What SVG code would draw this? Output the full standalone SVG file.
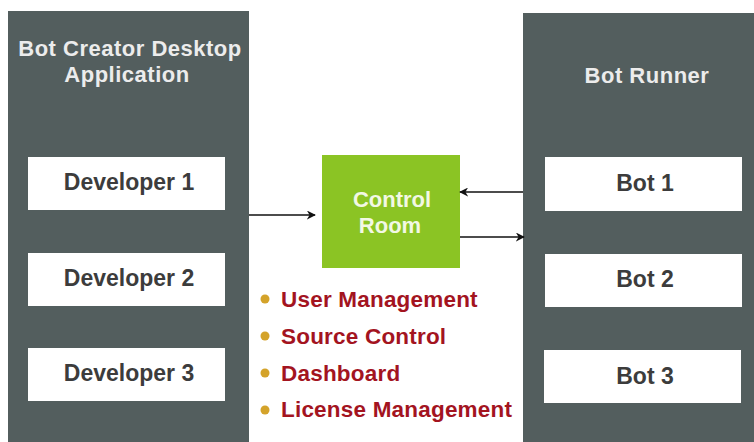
<svg xmlns="http://www.w3.org/2000/svg" width="754" height="442" viewBox="0 0 754 442">
<style>
.panel{fill:#535e5e}
.box{fill:#ffffff}
.boxt{font-family:"Liberation Sans",Arial,sans-serif;font-size:23px;font-weight:bold;fill:#3c3c3c;text-anchor:middle}
.head{font-family:"Liberation Sans",Arial,sans-serif;font-size:22px;font-weight:bold;fill:#ececec;text-anchor:middle;letter-spacing:0.5px}
.crt{font-family:"Liberation Sans",Arial,sans-serif;font-size:22px;font-weight:bold;fill:#f2f8e4;text-anchor:middle}
.item{font-family:"Liberation Sans",Arial,sans-serif;font-size:22.5px;font-weight:bold;fill:#a3141f;letter-spacing:0.2px}
.dot{fill:#d4a32a}
.conn{stroke:#111;stroke-width:1.6;fill:none;marker-end:url(#ah)}
</style>
<defs>
<marker id="ah" viewBox="0 0 10 10" refX="9" refY="5" markerWidth="9" markerHeight="9" markerUnits="userSpaceOnUse" orient="auto">
<path d="M0,0 L10,5 L0,10 L3,5 Z" fill="#111"/>
</marker>
</defs>
<rect width="754" height="442" fill="#ffffff"/>
<g id="bot-creator">
<rect class="panel" x="8" y="11" width="241" height="431"/>
<text class="head" x="130" y="56">Bot Creator Desktop</text>
<text class="head" x="127" y="82">Application</text>
</g>
<g id="developer1"><rect class="box" x="28" y="157" width="197" height="53"/><text class="boxt" x="129" y="190">Developer 1</text></g>
<g id="developer2"><rect class="box" x="28" y="253" width="197" height="53"/><text class="boxt" x="129" y="286">Developer 2</text></g>
<g id="developer3"><rect class="box" x="28" y="348" width="197" height="53"/><text class="boxt" x="129" y="381">Developer 3</text></g>
<g id="bot-runner">
<rect class="panel" x="523" y="13" width="231" height="429"/>
<text class="head" x="647" y="83">Bot Runner</text>
</g>
<g id="bot1"><rect class="box" x="545" y="157" width="197" height="54"/><text class="boxt" x="645" y="191">Bot 1</text></g>
<g id="bot2"><rect class="box" x="545" y="254" width="197" height="53"/><text class="boxt" x="645" y="287">Bot 2</text></g>
<g id="bot3"><rect class="box" x="544" y="350" width="197" height="53"/><text class="boxt" x="645" y="384">Bot 3</text></g>
<g id="control-room">
<rect x="322" y="155" width="138" height="113" fill="#8bc424"/>
<text class="crt" x="392" y="207">Control</text>
<text class="crt" x="390" y="233">Room</text>
</g>
<g id="features">
<circle class="dot" cx="265" cy="299" r="4.5"/><text class="item" x="281" y="307">User Management</text>
<circle class="dot" cx="265" cy="336" r="4.5"/><text class="item" x="281" y="344">Source Control</text>
<circle class="dot" cx="265" cy="373" r="4.5"/><text class="item" x="281" y="381">Dashboard</text>
<circle class="dot" cx="265" cy="410" r="4.5"/><text class="item" x="281" y="417">License Management</text>
</g>
<g id="connectors">
<line class="conn" x1="249" y1="215" x2="315" y2="215"/>
<line class="conn" x1="523" y1="192" x2="460" y2="192"/>
<line class="conn" x1="460" y1="237" x2="524" y2="237"/>
</g>
</svg>
